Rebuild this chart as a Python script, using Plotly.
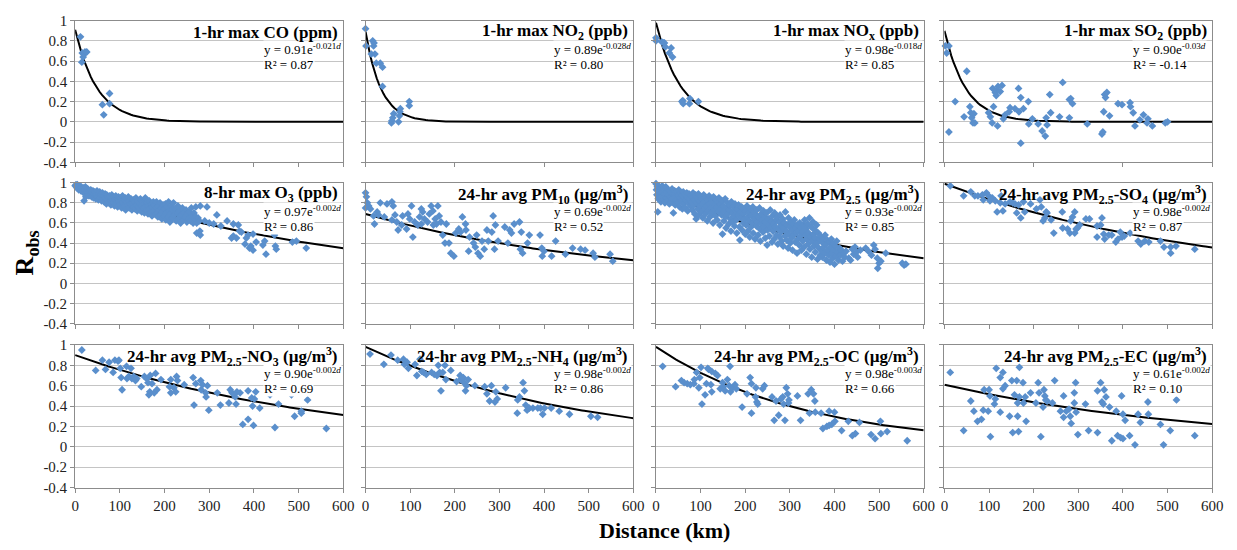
import numpy as np
import plotly.graph_objects as go

W, H = 1237, 550
FONT = "Times New Roman, Liberation Serif, Tinos, serif"
BLUE = "#5A8FCC"

# ---------------- data (distance km, R_obs) ----------------
CO_PTS = [(12, 0.84), (15, 0.59), (16, 0.68), (18, 0.64), (20, 0.67), (22, 0.69), (26, 0.69),
          (61, 0.17), (64, 0.07), (77, 0.28), (77, 0.18)]

NO2_PTS = [(0, 0.92), (1, 0.75), (13, 0.67), (16, 0.80), (18, 0.75), (19, 0.78), (21, 0.67),
           (24, 0.58), (33, 0.58), (38, 0.54), (38, 0.35), (58, -0.01), (59, 0.01), (61, 0.04),
           (63, 0.08), (74, 0.0), (76, 0.06), (77, 0.10), (78, 0.13), (98, 0.20), (98, 0.16)]

NOX_PTS = [(0, 0.83), (0, 0.80), (13, 0.79), (17, 0.78), (19, 0.78), (21, 0.74), (30, 0.68),
           (34, 0.73), (37, 0.64), (58, 0.20), (60, 0.21), (61, 0.18), (75, 0.18), (76, 0.23),
           (95, 0.20)]

SO2_PTS = [(2, 0.75), (10, 0.75), (5, 0.68), (10, -0.10), (24, 0.20), (44, 0.05), (50, 0.50),
           (57, 0.15), (59, 0.09), (61, 0.04), (66, 0.08), (64, -0.01), (68, -0.01), (99, 0.09),
           (103, 0.05), (107, -0.01), (108, 0.33), (110, 0.15), (114, 0.29), (118, 0.31),
           (116, 0.26), (120, 0.35), (125, 0.30), (129, 0.36), (119, -0.04), (132, 0.03),
           (136, 0.07), (145, 0.10), (147, 0.14), (158, 0.13), (166, 0.33), (167, 0.10),
           (171, 0.24), (177, 0.13), (171, -0.21), (188, 0.20), (189, -0.02), (197, 0.03),
           (210, -0.02), (219, -0.09), (226, -0.14), (228, 0.04), (230, -0.03), (236, 0.27),
           (238, 0.09), (258, 0.05), (265, 0.39), (280, 0.22), (283, 0.23), (287, 0.18),
           (280, 0.04), (320, -0.02), (353, -0.12), (355, -0.10), (357, 0.10), (359, 0.27),
           (361, 0.24), (364, 0.29), (370, 0.06), (389, 0.18), (398, 0.17), (416, 0.19),
           (417, 0.15), (423, 0.09), (427, -0.04), (438, 0.02), (446, 0.07), (456, 0.03),
           (454, -0.01), (466, -0.04), (495, -0.01), (500, 0.0)]

O3_PTS = [(0, 0.97), (2, 0.98), (4, 0.95), (5, 0.98), (7, 0.96), (8, 0.93), (10, 0.97), (11, 0.94),
          (13, 0.92), (14, 0.96), (16, 0.94), (17, 0.91), (19, 0.95), (20, 0.90), (22, 0.93),
          (23, 0.96), (25, 0.91), (26, 0.89), (28, 0.94), (29, 0.90), (31, 0.87), (32, 0.92),
          (34, 0.89), (35, 0.93), (37, 0.86), (38, 0.90), (40, 0.92), (41, 0.85), (43, 0.89),
          (44, 0.91), (46, 0.84), (47, 0.88), (49, 0.92), (50, 0.86), (52, 0.83), (53, 0.89),
          (55, 0.91), (56, 0.85), (58, 0.88), (59, 0.82), (61, 0.90), (62, 0.84),
          (64, 0.87), (65, 0.81), (67, 0.89), (68, 0.85), (70, 0.79), (71, 0.88), (73, 0.83),
          (74, 0.86), (76, 0.80), (77, 0.87), (79, 0.82), (80, 0.78), (82, 0.88), (83, 0.84),
          (85, 0.80), (86, 0.86), (88, 0.77), (89, 0.83), (91, 0.87), (92, 0.79), (94, 0.84),
          (95, 0.76), (97, 0.86), (98, 0.81),
          (100, 0.78), (101, 0.85), (103, 0.82), (104, 0.75), (106, 0.87), (107, 0.80),
          (109, 0.83), (110, 0.77), (112, 0.85), (113, 0.73), (115, 0.81), (116, 0.84),
          (118, 0.78), (119, 0.86), (121, 0.75), (122, 0.82), (124, 0.79), (125, 0.84),
          (127, 0.73), (128, 0.80), (130, 0.83), (131, 0.76), (133, 0.81), (134, 0.74),
          (136, 0.85), (137, 0.78), (139, 0.72),
          (140, 0.82), (142, 0.76), (143, 0.80), (145, 0.73), (146, 0.84), (148, 0.77),
          (149, 0.71), (151, 0.81), (152, 0.75), (154, 0.79), (155, 0.70), (157, 0.83),
          (158, 0.76), (160, 0.73), (161, 0.80), (163, 0.69), (164, 0.77), (166, 0.82),
          (167, 0.74), (169, 0.71), (170, 0.79), (172, 0.67), (173, 0.76), (175, 0.81),
          (176, 0.72), (178, 0.78), (179, 0.69),
          (181, 0.75), (182, 0.81), (184, 0.70), (185, 0.66), (187, 0.77), (188, 0.73),
          (190, 0.80), (191, 0.68), (193, 0.75), (194, 0.64), (196, 0.71), (197, 0.78),
          (199, 0.67), (200, 0.74), (202, 0.79), (203, 0.63), (205, 0.70), (206, 0.76),
          (208, 0.66), (209, 0.81), (211, 0.72), (212, 0.61), (214, 0.69), (215, 0.77),
          (217, 0.65), (218, 0.73),
          (220, 0.80), (222, 0.68), (224, 0.74), (226, 0.62), (228, 0.70), (230, 0.77),
          (232, 0.65), (234, 0.72), (236, 0.60), (238, 0.68), (240, 0.75), (242, 0.63),
          (244, 0.70), (246, 0.66), (248, 0.73), (250, 0.61), (252, 0.69), (254, 0.64),
          (256, 0.71), (258, 0.62), (260, 0.75), (262, 0.67), (264, 0.60), (266, 0.70),
          (268, 0.64), (270, 0.66), (272, 0.60), (275, 0.65), (278, 0.62),
          (20, 0.82), (24, 0.86), (157, 0.85), (270, 0.76), (280, 0.77), (295, 0.76),
          (272, 0.50), (279, 0.52), (280, 0.48), (290, 0.62), (300, 0.60), (310, 0.59),
          (317, 0.68), (326, 0.57), (340, 0.62), (350, 0.45), (354, 0.59), (354, 0.47),
          (361, 0.45), (365, 0.58), (368, 0.52), (372, 0.51), (380, 0.39), (383, 0.45),
          (387, 0.48), (390, 0.35), (393, 0.37), (398, 0.49), (398, 0.33), (405, 0.41),
          (420, 0.38), (424, 0.42), (427, 0.29), (446, 0.48), (448, 0.37), (450, 0.34),
          (486, 0.41), (495, 0.42), (517, 0.35)]

PM10_PTS = [(0, 0.90), (2, 0.86), (4, 0.80), (0, 0.75), (7, 0.77), (11, 0.74), (18, 0.67),
            (20, 0.59), (26, 0.71), (29, 0.68), (33, 0.80), (42, 0.66), (48, 0.79), (59, 0.81),
            (62, 0.77), (59, 0.63), (66, 0.68), (70, 0.61), (73, 0.53), (81, 0.58), (83, 0.67),
            (92, 0.54), (95, 0.69), (99, 0.64), (103, 0.77), (106, 0.46), (110, 0.61),
            (117, 0.58), (121, 0.66), (125, 0.74), (125, 0.59), (128, 0.71), (132, 0.64),
            (139, 0.61), (143, 0.69), (147, 0.77), (151, 0.72), (152, 0.58), (156, 0.64),
            (159, 0.59), (162, 0.77), (165, 0.67), (169, 0.61), (173, 0.48), (178, 0.40),
            (181, 0.59), (187, 0.40), (191, 0.30), (198, 0.27), (202, 0.50), (209, 0.54),
            (213, 0.51), (217, 0.66), (224, 0.59), (225, 0.53), (231, 0.32), (233, 0.46),
            (242, 0.40), (246, 0.36), (249, 0.48), (252, 0.30), (257, 0.27), (261, 0.42),
            (266, 0.34), (272, 0.53), (275, 0.42), (283, 0.51), (286, 0.67), (289, 0.34),
            (291, 0.58), (297, 0.42), (312, 0.56), (319, 0.40), (323, 0.53), (327, 0.50),
            (333, 0.59), (345, 0.61), (347, 0.34), (349, 0.51), (352, 0.30), (363, 0.40),
            (367, 0.48), (391, 0.48), (395, 0.35), (396, 0.27), (400, 0.32), (417, 0.27),
            (426, 0.42), (448, 0.29), (464, 0.35), (482, 0.34), (492, 0.33), (510, 0.30),
            (514, 0.26), (548, 0.29), (554, 0.22)]

PM25_PTS = [(0, 0.99), (1, 0.93), (2, 0.88), (3, 0.96), (4, 0.71), (5, 0.84), (6, 0.97), (7, 0.91),
            (9, 0.86), (10, 0.95), (11, 0.81), (12, 0.90), (14, 0.97), (15, 0.87), (16, 0.83),
            (18, 0.94), (19, 0.89), (20, 0.80), (22, 0.96), (23, 0.85), (24, 0.91), (26, 0.82),
            (27, 0.93), (28, 0.88), (30, 0.79),
            (31, 0.92), (32, 0.86), (34, 0.90), (35, 0.81), (36, 0.94), (38, 0.84), (39, 0.70),
            (40, 0.89), (42, 0.92), (43, 0.78), (44, 0.86), (46, 0.83), (47, 0.91), (49, 0.80),
            (50, 0.88), (51, 0.93), (53, 0.76), (54, 0.85), (55, 0.90), (57, 0.82), (58, 0.87),
            (59, 0.74),
            (61, 0.91), (62, 0.79), (63, 0.85), (65, 0.88), (66, 0.75), (67, 0.82), (69, 0.90),
            (70, 0.86), (71, 0.72), (73, 0.80), (74, 0.89), (75, 0.84), (77, 0.77), (78, 0.87),
            (79, 0.81), (81, 0.73), (82, 0.86), (83, 0.90), (85, 0.78), (86, 0.83), (87, 0.69),
            (89, 0.88), (90, 0.64),
            (91, 0.80), (92, 0.85), (93, 0.74), (95, 0.89), (96, 0.68), (97, 0.82), (99, 0.77),
            (100, 0.86), (101, 0.71), (103, 0.84), (104, 0.79), (105, 0.65), (107, 0.88),
            (108, 0.74), (109, 0.81), (111, 0.69), (112, 0.85), (113, 0.77), (115, 0.62),
            (116, 0.83), (117, 0.72), (119, 0.87), (120, 0.79), (121, 0.66), (123, 0.75),
            (124, 0.84), (125, 0.70), (127, 0.81), (128, 0.60), (129, 0.86), (131, 0.73),
            (132, 0.78), (133, 0.67), (135, 0.83), (136, 0.76), (137, 0.63), (139, 0.80),
            (140, 0.71), (141, 0.85), (143, 0.58), (144, 0.74), (145, 0.79), (147, 0.68),
            (148, 0.82), (149, 0.49),
            (151, 0.77), (152, 0.62), (153, 0.72), (155, 0.84), (156, 0.66), (157, 0.55),
            (159, 0.75), (160, 0.80), (161, 0.69), (163, 0.59), (164, 0.73), (165, 0.78),
            (167, 0.64), (168, 0.52), (169, 0.81), (171, 0.70), (172, 0.61), (173, 0.76),
            (175, 0.67), (176, 0.57), (177, 0.79), (179, 0.72), (180, 0.63), (181, 0.50),
            (183, 0.74), (184, 0.68), (185, 0.78), (187, 0.56), (188, 0.43), (189, 0.71),
            (191, 0.65), (192, 0.76), (193, 0.53), (195, 0.69), (196, 0.60), (197, 0.74),
            (199, 0.64), (200, 0.49),
            (201, 0.72), (202, 0.58), (204, 0.77), (205, 0.66), (206, 0.52), (208, 0.70),
            (209, 0.62), (210, 0.46), (212, 0.74), (213, 0.56), (214, 0.67), (216, 0.60),
            (217, 0.76), (218, 0.50), (220, 0.71), (221, 0.64), (222, 0.44), (224, 0.68),
            (225, 0.57), (226, 0.73), (228, 0.61), (229, 0.48), (230, 0.66), (232, 0.75),
            (233, 0.54), (234, 0.42), (236, 0.69), (237, 0.59), (238, 0.63), (240, 0.51),
            (241, 0.72), (242, 0.56), (244, 0.66), (245, 0.45), (246, 0.61), (248, 0.70),
            (249, 0.38), (250, 0.53), (252, 0.64), (253, 0.58), (254, 0.47), (256, 0.73),
            (257, 0.55), (258, 0.62), (260, 0.41),
            (261, 0.67), (262, 0.52), (264, 0.59), (265, 0.44), (266, 0.70), (268, 0.56),
            (269, 0.63), (270, 0.48), (272, 0.66), (273, 0.39), (274, 0.54), (276, 0.61),
            (277, 0.46), (278, 0.68), (280, 0.51), (281, 0.57), (282, 0.42), (284, 0.64),
            (285, 0.37), (286, 0.55), (288, 0.60), (289, 0.47), (290, 0.71), (292, 0.52),
            (293, 0.43), (294, 0.58), (296, 0.35), (297, 0.65), (298, 0.49), (300, 0.56),
            (301, 0.40), (302, 0.61), (304, 0.45), (305, 0.53), (306, 0.33), (308, 0.59),
            (309, 0.48), (310, 0.63), (312, 0.41), (313, 0.55), (314, 0.50), (316, 0.30),
            (317, 0.58), (318, 0.44), (320, 0.52),
            (321, 0.38), (322, 0.60), (324, 0.47), (325, 0.55), (326, 0.33), (328, 0.51),
            (329, 0.42), (330, 0.58), (332, 0.36), (333, 0.63), (334, 0.48), (336, 0.54),
            (337, 0.29), (338, 0.44), (340, 0.59), (341, 0.39), (342, 0.50), (344, 0.65),
            (345, 0.34), (346, 0.46), (348, 0.56), (349, 0.26), (350, 0.42), (352, 0.61),
            (353, 0.49), (354, 0.37), (356, 0.53), (357, 0.31), (358, 0.45), (360, 0.58),
            (361, 0.40), (362, 0.24), (364, 0.50), (365, 0.35), (366, 0.44), (368, 0.28),
            (369, 0.47), (370, 0.33), (372, 0.41), (373, 0.26), (375, 0.45), (376, 0.36),
            (378, 0.30), (379, 0.48), (381, 0.39), (382, 0.23), (384, 0.43), (385, 0.33),
            (387, 0.28), (388, 0.41), (390, 0.21), (391, 0.36), (393, 0.44), (394, 0.30),
            (396, 0.25), (397, 0.39), (399, 0.33), (400, 0.19), (402, 0.37), (403, 0.27),
            (405, 0.42), (407, 0.31), (409, 0.23), (411, 0.35), (413, 0.28), (416, 0.33),
            (418, 0.22), (421, 0.30), (423, 0.26), (426, 0.32),
            (432, 0.25), (436, 0.23), (440, 0.34), (443, 0.29), (446, 0.36), (449, 0.31),
            (452, 0.26), (458, 0.33), (470, 0.35), (476, 0.32), (483, 0.28), (488, 0.38),
            (491, 0.34), (496, 0.25), (497, 0.15), (500, 0.20), (504, 0.22), (515, 0.30),
            (552, 0.20), (556, 0.18), (560, 0.19)]

SO4_PTS = [(13, 0.97), (43, 0.87), (59, 0.91), (68, 0.87), (75, 0.87), (85, 0.88), (87, 0.83),
           (94, 0.90), (99, 0.87), (102, 0.82), (107, 0.85), (114, 0.82), (118, 0.71), (125, 0.80),
           (127, 0.87), (131, 0.72), (136, 0.79), (147, 0.81), (153, 0.80), (158, 0.79),
           (162, 0.70), (166, 0.78), (171, 0.65), (177, 0.81), (180, 0.71), (193, 0.79),
           (206, 0.74), (214, 0.83), (217, 0.76), (221, 0.62), (225, 0.65), (228, 0.71),
           (230, 0.70), (239, 0.63), (245, 0.50), (264, 0.71), (265, 0.55), (276, 0.54),
           (281, 0.50), (283, 0.62), (287, 0.66), (292, 0.71), (292, 0.50), (295, 0.54),
           (298, 0.55), (303, 0.58), (317, 0.64), (325, 0.64), (342, 0.57), (342, 0.46),
           (350, 0.58), (353, 0.65), (357, 0.49), (359, 0.44), (368, 0.48), (375, 0.48),
           (384, 0.41), (389, 0.44), (394, 0.51), (398, 0.46), (403, 0.47), (416, 0.50),
           (434, 0.42), (440, 0.39), (449, 0.42), (458, 0.41), (484, 0.42), (492, 0.36),
           (507, 0.36), (507, 0.30), (519, 0.37), (561, 0.34)]

NO3_PTS = [(15, 0.95), (46, 0.75), (61, 0.85), (68, 0.76), (76, 0.83), (85, 0.73), (89, 0.85),
           (96, 0.84), (98, 0.85), (101, 0.77), (103, 0.68), (105, 0.56), (115, 0.79), (116, 0.67),
           (120, 0.69), (125, 0.77), (127, 0.67), (131, 0.69), (135, 0.65), (138, 0.67),
           (148, 0.59), (155, 0.69), (160, 0.67), (163, 0.63), (165, 0.51), (167, 0.54),
           (168, 0.70), (172, 0.62), (177, 0.53), (180, 0.72), (183, 0.56), (192, 0.66),
           (211, 0.59), (214, 0.66), (214, 0.53), (221, 0.58), (225, 0.54), (227, 0.69),
           (229, 0.65), (244, 0.61), (264, 0.68), (266, 0.41), (270, 0.62), (281, 0.65),
           (282, 0.56), (285, 0.61), (292, 0.53), (293, 0.49), (296, 0.60), (299, 0.36),
           (318, 0.53), (325, 0.41), (344, 0.43), (347, 0.56), (351, 0.53), (358, 0.49),
           (360, 0.42), (362, 0.54), (369, 0.53), (375, 0.22), (387, 0.27), (387, 0.55),
           (395, 0.48), (397, 0.40), (399, 0.21), (401, 0.47), (404, 0.54), (413, 0.38),
           (436, 0.51), (447, 0.19), (455, 0.42), (484, 0.51), (491, 0.30), (506, 0.33),
           (506, 0.35), (520, 0.46), (562, 0.18)]

NH4_PTS = [(10, 0.91), (41, 0.81), (57, 0.90), (72, 0.85), (85, 0.86), (87, 0.81), (93, 0.83),
           (96, 0.77), (111, 0.81), (115, 0.70), (122, 0.86), (126, 0.74), (130, 0.73),
           (136, 0.71), (148, 0.73), (154, 0.71), (160, 0.70), (163, 0.80), (166, 0.73),
           (169, 0.55), (173, 0.73), (178, 0.80), (180, 0.66), (191, 0.75), (204, 0.64),
           (212, 0.70), (213, 0.66), (219, 0.68), (221, 0.63), (224, 0.55), (226, 0.60),
           (230, 0.66), (245, 0.60), (267, 0.59), (272, 0.52), (278, 0.45), (282, 0.60),
           (290, 0.44), (292, 0.54), (295, 0.47), (314, 0.58), (340, 0.33), (341, 0.46),
           (345, 0.49), (353, 0.63), (356, 0.55), (359, 0.41), (362, 0.36), (367, 0.38),
           (375, 0.38), (386, 0.38), (392, 0.38), (397, 0.32), (401, 0.38), (416, 0.38),
           (434, 0.35), (457, 0.32), (505, 0.30), (520, 0.29)]

OC_PTS = [(15, 0.79), (44, 0.59), (57, 0.65), (63, 0.63), (70, 0.62), (77, 0.61), (85, 0.62),
          (86, 0.66), (91, 0.73), (96, 0.58), (98, 0.68), (101, 0.78), (103, 0.42), (110, 0.51),
          (113, 0.62), (116, 0.77), (118, 0.76), (123, 0.61), (125, 0.54), (125, 0.74),
          (133, 0.72), (138, 0.70), (144, 0.57), (149, 0.63), (151, 0.59), (155, 0.55),
          (160, 0.66), (164, 0.60), (166, 0.79), (167, 0.54), (172, 0.58), (177, 0.61),
          (180, 0.57), (193, 0.39), (204, 0.52), (211, 0.68), (214, 0.62), (214, 0.33),
          (223, 0.49), (224, 0.58), (226, 0.44), (228, 0.42), (239, 0.57), (243, 0.60),
          (260, 0.49), (265, 0.26), (269, 0.45), (275, 0.31), (280, 0.47), (284, 0.49),
          (286, 0.42), (289, 0.26), (292, 0.58), (295, 0.52), (297, 0.43), (298, 0.46),
          (317, 0.50), (324, 0.26), (341, 0.52), (344, 0.33), (348, 0.56), (353, 0.52),
          (356, 0.45), (357, 0.34), (370, 0.33), (374, 0.18), (383, 0.20), (388, 0.21),
          (388, 0.35), (394, 0.22), (400, 0.34), (401, 0.25), (416, 0.16), (431, 0.25),
          (440, 0.11), (447, 0.13), (456, 0.24), (482, 0.12), (491, 0.08), (503, 0.25),
          (504, 0.13), (518, 0.15), (563, 0.06)]

EC_PTS = [(13, 0.73), (43, 0.16), (59, 0.45), (66, 0.35), (74, 0.25), (83, 0.27), (87, 0.36),
          (89, 0.56), (98, 0.35), (100, 0.56), (102, 0.50), (103, 0.10), (112, 0.42), (114, 0.47),
          (116, 0.77), (125, 0.34), (125, 0.68), (131, 0.73), (131, 0.57), (136, 0.60),
          (146, 0.30), (151, 0.65), (153, 0.14), (157, 0.51), (162, 0.65), (164, 0.30),
          (164, 0.43), (166, 0.15), (168, 0.49), (168, 0.78), (176, 0.63), (177, 0.43),
          (181, 0.49), (183, 0.25), (193, 0.53), (205, 0.43), (210, 0.63), (212, 0.53),
          (216, 0.10), (221, 0.39), (223, 0.56), (225, 0.50), (227, 0.46), (230, 0.45),
          (242, 0.43), (247, 0.65), (260, 0.35), (267, 0.50), (267, 0.29), (273, 0.35),
          (279, 0.37), (282, 0.30), (284, 0.23), (291, 0.53), (291, 0.43), (294, 0.63),
          (295, 0.34), (299, 0.12), (316, 0.42), (323, 0.16), (343, 0.14), (343, 0.55),
          (350, 0.63), (353, 0.44), (356, 0.42), (358, 0.56), (362, 0.49), (370, 0.39),
          (375, 0.06), (385, 0.35), (388, 0.11), (395, 0.09), (397, 0.50), (400, 0.32),
          (400, 0.08), (405, 0.26), (415, 0.11), (427, 0.02), (434, 0.32), (439, 0.24),
          (456, 0.44), (457, 0.32), (484, 0.22), (491, 0.02), (506, 0.16), (520, 0.46),
          (561, 0.11)]

PANEL_PTS = [CO_PTS, NO2_PTS, NOX_PTS, SO2_PTS,
             O3_PTS, PM10_PTS, PM25_PTS, SO4_PTS,
             NO3_PTS, NH4_PTS, OC_PTS, EC_PTS]

PANEL_TITLES = ["1-hr max CO (ppm)", "1-hr max NO<sub>2</sub> (ppb)",
                "1-hr max NO<sub>x</sub> (ppb)", "1-hr max SO<sub>2</sub> (ppb)",
                "8-hr max O<sub>3</sub> (ppb)", "24-hr avg PM<sub>10</sub> (µg/m<sup>3</sup>)",
                "24-hr avg PM<sub>2.5</sub> (µg/m<sup>3</sup>)",
                "24-hr avg PM<sub>2.5</sub>-SO<sub>4</sub> (µg/m<sup>3</sup>)",
                "24-hr avg PM<sub>2.5</sub>-NO<sub>3</sub> (µg/m<sup>3</sup>)",
                "24-hr avg PM<sub>2.5</sub>-NH<sub>4</sub> (µg/m<sup>3</sup>)",
                "24-hr avg PM<sub>2.5</sub>-OC (µg/m<sup>3</sup>)",
                "24-hr avg PM<sub>2.5</sub>-EC (µg/m<sup>3</sup>)"]

EQ_A_TEXT = ["0.91", "0.89", "0.98", "0.90", "0.97", "0.69", "0.93", "0.98", "0.90", "0.98", "0.98", "0.61"]
EQ_B_TEXT = ["-0.021", "-0.028", "-0.018", "-0.03", "-0.002", "-0.002", "-0.002", "-0.002",
             "-0.002", "-0.002", "-0.003", "-0.002"]
R2_TEXT = ["0.87", "0.80", "0.85", "-0.14", "0.86", "0.52", "0.85", "0.87", "0.69", "0.86", "0.66", "0.10"]

# trendline coefficients (as drawn)
FIT_A = [0.91, 0.89, 0.98, 0.90, 0.97, 0.69, 0.93, 0.99, 0.90, 0.98, 0.98, 0.61]
FIT_B = [-0.0205, -0.029, -0.0185, -0.021, -0.0017, -0.00183, -0.0022, -0.0017,
         -0.00176, -0.00208, -0.0030, -0.00167]

X_DTICK = [100, 200, 100, 200, 100, 100, 100, 100, 100, 100, 100, 100]
Y_TICKS = [-0.4, -0.2, 0, 0.2, 0.4, 0.6, 0.8, 1]
Y_TICKTEXT = ["-0.4", "-0.2", "0", "0.2", "0.4", "0.6", "0.8", "1"]

# ---------------- layout geometry (pixels) ----------------
COL_X = [(72, 343.5), (366, 637), (660, 931), (952, 1223)]
ROW_Y = [(13, 159), (180, 325), (347, 494)]

fig = go.Figure()
r2_annotations = []
eq_annotations = []
title_annotations = []
layout_axes = {}

for i in range(12):
    r, c = divmod(i, 4)
    n = i + 1
    xa = "x" if n == 1 else f"x{n}"
    ya = "y" if n == 1 else f"y{n}"
    xkey = "xaxis" if n == 1 else f"xaxis{n}"
    ykey = "yaxis" if n == 1 else f"yaxis{n}"
    x0, x1 = COL_X[c]
    y0, y1 = ROW_Y[r]

    layout_axes[xkey] = dict(
        domain=[x0 / W, x1 / W], range=[0, 600], dtick=X_DTICK[i], tick0=0,
        showgrid=False, zeroline=False, showline=True, linecolor="#8C8C8C", linewidth=1,
        mirror=True, ticks="outside", ticklen=4, tickcolor="#8C8C8C",
        showticklabels=(r == 2), tickfont=dict(family=FONT, size=15, color="#222"),
        anchor=ya, fixedrange=True)
    layout_axes[ykey] = dict(
        domain=[1 - y1 / H, 1 - y0 / H], range=[-0.4, 1],
        tickvals=Y_TICKS, ticktext=Y_TICKTEXT,
        showgrid=True, gridcolor="#C4C4C4", gridwidth=1, zeroline=False,
        showline=True, linecolor="#8C8C8C", linewidth=1, mirror=True,
        ticks="outside", ticklen=4, tickcolor="#8C8C8C",
        showticklabels=(c == 0), tickfont=dict(family=FONT, size=15, color="#222"),
        anchor=xa, fixedrange=True)

    dline = np.linspace(0, 600, 121)
    fig.add_trace(go.Scatter(x=dline, y=FIT_A[i] * np.exp(FIT_B[i] * dline), mode="lines",
                             line=dict(color="black", width=2), xaxis=xa, yaxis=ya,
                             showlegend=False, hoverinfo="skip"))
    pts = PANEL_PTS[i]
    fig.add_trace(go.Scatter(x=[p[0] for p in pts], y=[p[1] for p in pts], mode="markers",
                             marker=dict(symbol="diamond", size=6, color=BLUE,
                                         line=dict(width=0)),
                             xaxis=xa, yaxis=ya, showlegend=False, cliponaxis=False))

    r2_annotations.append(dict(
        x=(x1 - 81) / W, y=1 - (y0 + 45) / H, xref="paper", yref="paper",
        xanchor="left", yanchor="middle", align="left", showarrow=False,
        text=f"R² = {R2_TEXT[i]}",
        font=dict(family=FONT, size=13, color="black"), bgcolor="white", borderpad=0))
    eq_annotations.append(dict(
        x=(x1 - 81) / W, y=1 - (y0 + 29) / H, xref="paper", yref="paper",
        xanchor="left", yanchor="middle", align="left", showarrow=False,
        text=f"y = {EQ_A_TEXT[i]}e<sup>{EQ_B_TEXT[i]}<i>d</i></sup>",
        font=dict(family=FONT, size=13, color="black"), bgcolor="white", borderpad=0))
    title_annotations.append(dict(
        x=(x1 - 3) / W, y=1 - (y0 + 12) / H, xref="paper", yref="paper",
        xanchor="right", yanchor="middle", showarrow=False,
        text=f"<b>{PANEL_TITLES[i]}</b>", font=dict(family=FONT, size=17, color="black")))

axis_titles = [
    dict(x=22 / W, y=1 - 252 / H, xref="paper", yref="paper",
         text="<b>R<sub>obs</sub></b>", textangle=-90, showarrow=False,
         xanchor="center", yanchor="middle", font=dict(family=FONT, size=26, color="black")),
    dict(x=669 / W, y=1 - 538 / H, xref="paper", yref="paper",
         text="<b>Distance (km)</b>", showarrow=False,
         xanchor="center", yanchor="middle", font=dict(family=FONT, size=22, color="black")),
]

fig.update_layout(width=W, height=H, margin=dict(l=0, r=0, t=0, b=0),
                  paper_bgcolor="white", plot_bgcolor="white",
                  annotations=r2_annotations + eq_annotations + title_annotations + axis_titles,
                  **layout_axes)

fig.write_html("out.html")
